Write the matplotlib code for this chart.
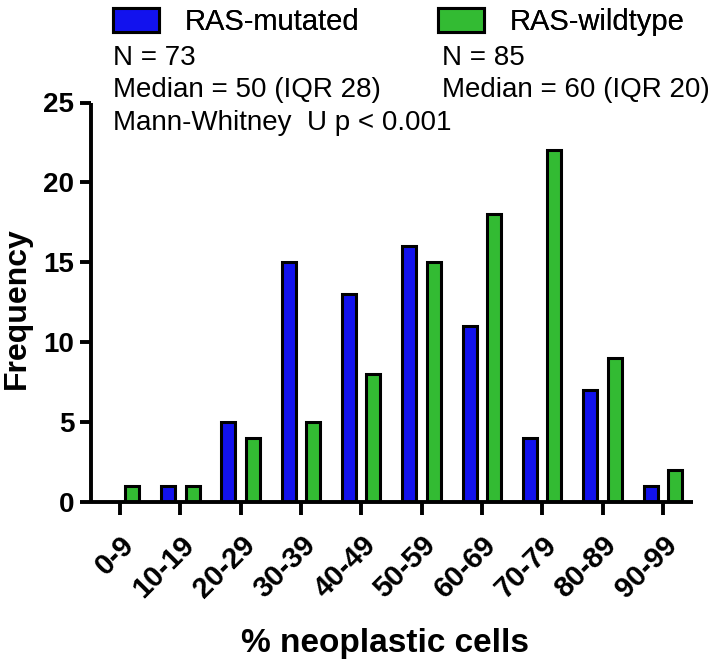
import numpy as np
import matplotlib
matplotlib.use("Agg")
from matplotlib import pyplot as plt
from matplotlib.patches import Patch

plt.rcParams['font.family'] = ['Liberation Sans', 'DejaVu Sans']

bins = ["0-9", "10-19", "20-29", "30-39", "40-49",
        "50-59", "60-69", "70-79", "80-89", "90-99"]
ras_mutated = [0, 1, 5, 15, 13, 16, 11, 4, 7, 1]
ras_wildtype = [1, 1, 4, 5, 8, 15, 18, 22, 9, 2]
y_ticks = [0, 5, 10, 15, 20, 25]

blue = '#1212ee'
green = '#33bb33'

W, H = 718, 659


def main():
    fig = plt.figure(figsize=(W / 100, H / 100), dpi=100)
    # axes box from pixel positions of the reference
    left, right, bottom, top = 91, 693, 502, 102.5
    ax = fig.add_axes([left / W, 1 - bottom / H, (right - left) / W, (bottom - top) / H])

    x = np.arange(len(bins))
    w = 0.232
    off = 0.203
    ax.bar(x - off, ras_mutated, w, color=blue, edgecolor='black', linewidth=2.2)
    ax.bar(x + off, ras_wildtype, w, color=green, edgecolor='black', linewidth=2.2)

    ax.set_xlim(-0.48, 9.50)
    ax.set_ylim(0, 25)
    ax.set_yticks(y_ticks)
    ax.set_yticklabels([str(t) for t in y_ticks], fontsize=20, fontweight='bold')
    ax.set_xticks(x)
    ax.set_xticklabels(bins, rotation=45, ha='right', rotation_mode='anchor',
                       fontsize=21, fontweight='bold')
    for s in ['top', 'right']:
        ax.spines[s].set_visible(False)
    for s in ['left', 'bottom']:
        ax.spines[s].set_linewidth(2.8)
        ax.spines[s].set_capstyle('butt')
    ax.tick_params(axis='y', width=2.8, length=8, pad=4)
    ax.tick_params(axis='x', width=2.8, length=9, pad=12)

    ax.set_ylabel("Frequency", fontsize=23, fontweight='bold')
    ax.yaxis.set_label_coords(-0.098, 0.485)
    ax.set_xlabel("% neoplastic cells", fontsize=24, fontweight='bold')
    ax.xaxis.set_label_coords(0.488, -0.315)

    fs_leg = 21
    for label, col, x0 in [("RAS-mutated", blue, 113), ("RAS-wildtype", green, 438)]:
        leg = fig.legend([Patch(facecolor=col, edgecolor='black', linewidth=2.2)], [label],
                         loc='upper left', bbox_to_anchor=(x0 / W, 1 - 8 / H),
                         frameon=False, fontsize=fs_leg, borderpad=0, borderaxespad=0,
                         handlelength=1.58, handleheight=0.89, handletextpad=0.86)
        fig.add_artist(leg)

    fs = 20
    col1, col2 = 113 / W, 442 / W
    rows = [1 - 65 / H, 1 - 97 / H, 1 - 130 / H]
    fig.text(col1, rows[0], "N = 73", fontsize=fs, va='baseline')
    fig.text(col1, rows[1], "Median = 50 (IQR 28)", fontsize=fs, va='baseline')
    fig.text(col1, rows[2], "Mann-Whitney  U p < 0.001", fontsize=fs, va='baseline')
    fig.text(col2, rows[0], "N = 85", fontsize=fs, va='baseline')
    fig.text(col2, rows[1], "Median = 60 (IQR 20)", fontsize=fs, va='baseline')

    fig.savefig("out.png", dpi=100)


if __name__ == '__main__':
    main()
